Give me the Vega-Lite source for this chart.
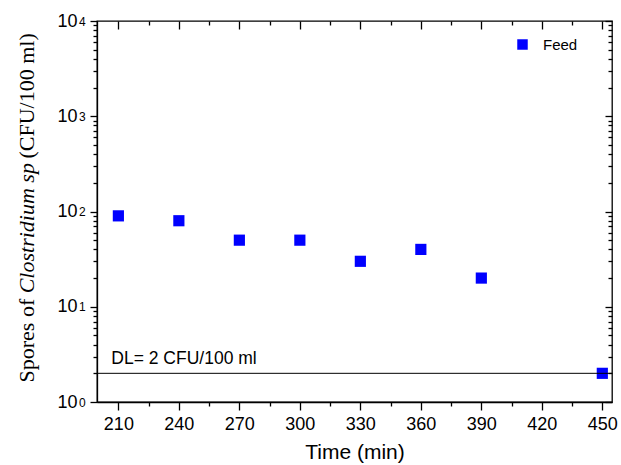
{
  "$schema": "https://vega.github.io/schema/vega-lite/v6.json",
  "width": 515,
  "height": 381,
  "autosize": {"type": "none"},
  "padding": {"left": 97, "top": 21, "right": 9, "bottom": 63},
  "background": "white",
  "config": {
    "view": {"stroke": "black", "strokeWidth": 1.3},
    "axis": {"grid": false, "domainColor": "black", "tickColor": "black", "labelColor": "black", "titleColor": "black", "labelFont": "Liberation Sans", "titleFont": "Liberation Sans", "domainWidth": 1.3, "tickWidth": 1.3}
  },
  "data": {"values": [
    {"time": 210, "spores": 90, "series": "Feed"},
    {"time": 240, "spores": 80, "series": "Feed"},
    {"time": 270, "spores": 50, "series": "Feed"},
    {"time": 300, "spores": 50, "series": "Feed"},
    {"time": 330, "spores": 30, "series": "Feed"},
    {"time": 360, "spores": 40, "series": "Feed"},
    {"time": 390, "spores": 20, "series": "Feed"},
    {"time": 450, "spores": 2, "series": "Feed"}
  ]},
  "resolve": {"axis": {"x": "independent", "y": "independent"}},
  "layer": [
    {
      "mark": {"type": "point", "shape": "square", "filled": true, "opacity": 1, "size": 125},
      "encoding": {
        "x": {"field": "time", "type": "quantitative", "scale": {"domain": [199.4, 454.8], "nice": false, "zero": false},
          "axis": {"orient": "bottom", "values": [210, 240, 270, 300, 330, 360, 390, 420, 450], "tickSize": 8, "labelFontSize": 18, "labelPadding": 5, "title": "Time (min)", "titleFontSize": 21, "titleFontWeight": "normal", "titlePadding": 8}},
        "y": {"field": "spores", "type": "quantitative", "scale": {"type": "log", "domain": [1, 10000], "nice": false},
          "axis": {"orient": "left", "values": [1, 10, 100, 1000, 10000], "tickSize": 7, "labelFontSize": 18, "labelPadding": 13, "labelAlign": "right", "labelBaseline": "middle",
            "labelExpr": "'10'",
            "title": "Spores of ", "titleFont": "Liberation Serif", "titleFontSize": 22, "titleFontWeight": "normal", "titleAngle": -90, "titleAlign": "left", "titleBaseline": "alphabetic", "titleX": -64, "titleY": 361}},
        "color": {"field": "series", "type": "nominal", "scale": {"range": ["#0000ff"]},
          "legend": {"title": null, "orient": "none", "legendX": 418, "legendY": 16, "symbolType": "square", "symbolSize": 110, "labelFontSize": 15, "labelFont": "Liberation Sans", "symbolStrokeWidth": 0, "labelOffset": 13}}
      }
    },
    {
      "data": {"values": [{"dl": 2}]},
      "mark": {"type": "rule", "color": "black", "strokeWidth": 1},
      "encoding": {
        "y": {"field": "dl", "type": "quantitative", "axis": {"orient": "left", "values": [2,3,4,5,6,7,8,9,20,30,40,50,60,70,80,90,200,300,400,500,600,700,800,900,2000,3000,4000,5000,6000,7000,8000,9000], "labels": false, "tickSize": 4, "domain": false,
          "title": "Clostridium sp", "titleFont": "Liberation Serif", "titleFontSize": 22, "titleFontWeight": "normal", "titleFontStyle": "italic", "titleAngle": -90, "titleAlign": "left", "titleBaseline": "alphabetic", "titleX": -64, "titleY": 271.8}}
      }
    },
    {
      "data": {"values": [{"t": 206.5, "dl": 2, "label": "DL= 2 CFU/100 ml"}]},
      "mark": {"type": "text", "align": "left", "baseline": "alphabetic", "dy": -9, "fontSize": 17.5, "font": "Liberation Sans", "color": "black"},
      "encoding": {
        "x": {"field": "t", "type": "quantitative", "axis": {"orient": "bottom", "values": [225, 255, 285, 315, 345, 375, 405, 435], "labels": false, "tickSize": 4, "domain": false, "title": null}},
        "y": {"field": "dl", "type": "quantitative", "axis": null},
        "text": {"field": "label"}
      }
    },
    {
      "mark": {"type": "point", "opacity": 0},
      "encoding": {
        "x": {"field": "time", "type": "quantitative", "axis": {"orient": "top", "values": [210, 240, 270, 300, 330, 360, 390, 420, 450], "labels": false, "tickSize": -8, "domain": false, "title": null}},
        "y": {"field": "spores", "type": "quantitative", "axis": {"orient": "right", "values": [1, 10, 100, 1000, 10000], "labels": false, "tickSize": -7, "domain": false, "title": null}}
      }
    },
    {
      "mark": {"type": "point", "opacity": 0},
      "encoding": {
        "x": {"field": "time", "type": "quantitative", "axis": {"orient": "top", "values": [225, 255, 285, 315, 345, 375, 405, 435], "labels": false, "tickSize": -4, "domain": false, "title": null}},
        "y": {"field": "spores", "type": "quantitative", "axis": {"orient": "right", "values": [2,3,4,5,6,7,8,9,20,30,40,50,60,70,80,90,200,300,400,500,600,700,800,900,2000,3000,4000,5000,6000,7000,8000,9000], "labels": false, "tickSize": -4, "domain": false, "title": null}}
      }
    },
    {
      "mark": {"type": "point", "opacity": 0},
      "encoding": {
        "x": {"field": "time", "type": "quantitative", "axis": null},
        "y": {"field": "spores", "type": "quantitative", "axis": {"orient": "left", "values": [1, 10, 100, 1000, 10000], "tickSize": 0, "ticks": false, "domain": false, "labelFontSize": 12, "labelPadding": 18.5, "labelAlign": "left", "labelBaseline": "middle", "labelDy": -3,
          "labelExpr": "format(log(datum.value) / LN10, 'd')",
          "title": "(CFU/100 ml)", "titleFont": "Liberation Serif", "titleFontSize": 22, "titleFontWeight": "normal", "titleAngle": -90, "titleAlign": "left", "titleBaseline": "alphabetic", "titleX": -64, "titleY": 137}}
      }
    }
  ]
}
